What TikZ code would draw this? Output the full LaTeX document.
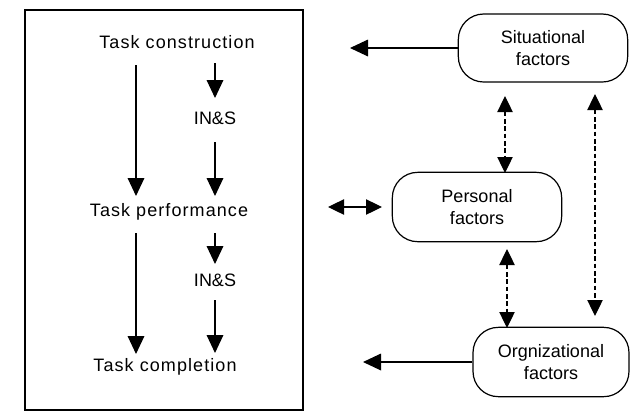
\documentclass[tikz,border=0pt]{standalone}
\usepackage{fontspec}
\setmainfont{Liberation Sans}
\newfontfamily\spacedfont[LetterSpace=6]{Liberation Sans}
\usetikzlibrary{arrows.meta}
\begin{document}
\begin{tikzpicture}[x=0.75pt,y=-0.75pt,
  every node/.style={font=\fontsize{13.5}{16.5}\selectfont, inner sep=0pt},
  tasktext/.style={font=\fontsize{13.5}{16.5}\selectfont\spacedfont},
  factor/.style={draw, line width=0.9pt, rounded corners=19pt, align=center, minimum height=51pt},
  arr/.style={line width=0.9pt, -{Triangle[width=12.5pt,length=13.5pt]}},
  darr/.style={line width=0.9pt, {Triangle[width=11.5pt,length=12pt]}-{Triangle[width=11.5pt,length=12pt]}},
  dasharr/.style={darr, dash pattern=on 3.5pt off 2pt}
]
\useasboundingbox (0,0) rectangle (631,412);
% left frame
\draw[line width=0.9pt] (25,10) rectangle (303,410);
\node[tasktext] (tc) at (177,42) {Task construction};
\node[tasktext] (tp) at (169,212) {Task performance};
\node[tasktext] (tcomp) at (165,367) {Task completion};
\node (ins1) at (215,118) {IN\&S};
\node (ins2) at (215,280) {IN\&S};
% coordinates of arrow ends
\coordinate (a1s) at (136,65);  \coordinate (a1e) at (136,196);
\coordinate (a2s) at (215,63);  \coordinate (a2e) at (215,98);
\coordinate (a3s) at (215,142); \coordinate (a3e) at (215,196);
\coordinate (a4s) at (136,233); \coordinate (a4e) at (136,354);
\coordinate (a5s) at (215,233); \coordinate (a5e) at (215,264);
\coordinate (a6s) at (215,300); \coordinate (a6e) at (215,353);
\draw[arr] (a1s) -- (a1e);
\draw[arr] (a2s) -- (a2e);
\draw[arr] (a3s) -- (a3e);
\draw[arr] (a4s) -- (a4e);
\draw[arr] (a5s) -- (a5e);
\draw[arr] (a6s) -- (a6e);
% factor boxes
\node[factor, minimum width=127pt] (sit) at (543,48) {Situational\\factors};
\node[factor, minimum width=127pt, minimum height=52pt] (per) at (477,207) {Personal\\factors};
\node[factor, minimum width=117pt, minimum height=52pt] (org) at (551,362) {Orgnizational\\factors};
% arrows to left
\coordinate (sitend) at (350,48);
\coordinate (orgend) at (363,362);
\coordinate (perl) at (328,207);
\coordinate (perr) at (382,207);
\draw[arr] (sit.west) -- (sitend);
\draw[arr] (org.west) -- (orgend);
\draw[darr] (perl) -- (perr);
% dashed links
\coordinate (d1t) at (505,96);  \coordinate (d1b) at (505,173);
\coordinate (d2t) at (507,249); \coordinate (d2b) at (507,328);
\coordinate (d3t) at (595,94);  \coordinate (d3b) at (595,316);
\draw[dasharr] (d1t) -- (d1b);
\draw[dasharr] (d2t) -- (d2b);
\draw[dasharr] (d3t) -- (d3b);
\end{tikzpicture}
\end{document}
